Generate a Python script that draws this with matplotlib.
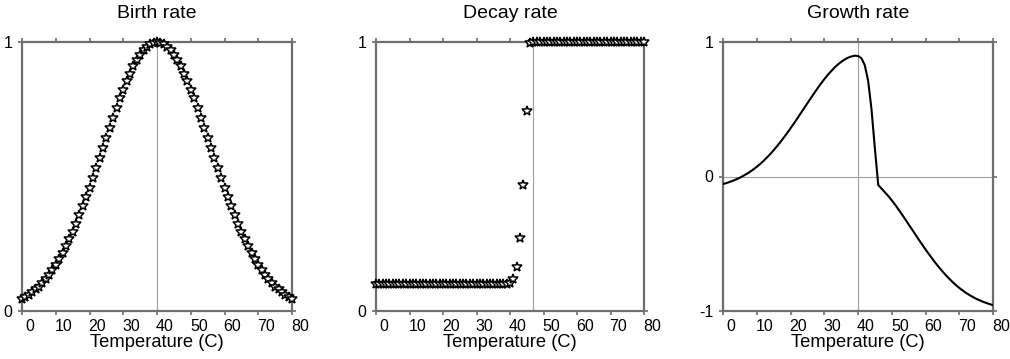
import matplotlib
matplotlib.use('Agg')
import matplotlib.pyplot as plt
import matplotlib.transforms as mtrans

plt.rcParams['font.family'] = ['Liberation Sans', 'DejaVu Sans']

# temperatures 0..80, one sample per degree
temps = list(range(0, 81))

# birth rate (peak at 40 C, symmetric)
birth_half = [1.000, 0.998, 0.992, 0.983, 0.969, 0.952, 0.932, 0.909, 0.882, 0.854,
              0.823, 0.790, 0.755, 0.719, 0.682, 0.644, 0.607, 0.569, 0.531, 0.494,
              0.458, 0.423, 0.389, 0.356, 0.325, 0.295, 0.267, 0.241, 0.216, 0.193,
              0.172, 0.153, 0.135, 0.119, 0.105, 0.091, 0.080, 0.069, 0.060, 0.051,
              0.044]
birth_rate = birth_half[::-1] + birth_half[1:]

# decay rate
decay_rate = [0.100] * 40 + [0.104, 0.118, 0.164, 0.271, 0.469, 0.743, 0.995] + [1.000] * 34

# growth = birth - decay (right panel)
growth_rate = [b - d for b, d in zip(birth_rate, decay_rate)]

xticks = [0, 10, 20, 30, 40, 50, 60, 70, 80]
titles = ['Birth rate', 'Decay rate', 'Growth rate']
vlines = [40, 47, 40]

fig = plt.figure(figsize=(10.10, 3.59), dpi=100)
W, H = 1010, 359
boxes = [(22, 292), (376, 644), (723, 993)]
axes = []
for l, r in boxes:
    axes.append(fig.add_axes([l / W, (359 - 311) / H, (r - l) / W, 269 / H]))

frame_col = '#6e6e6e'
grid_col = '#a0a0a0'

for i, ax in enumerate(axes):
    ax.set_xlim(0, 80)
    ax.set_xticks(xticks)
    ax.tick_params(axis='both', direction='out', length=3, width=1.2, color=frame_col,
                   labelsize=11.5, pad=4, top=True, right=True)
    ax.tick_params(axis='x', pad=3)
    for s in ax.spines.values():
        s.set_color(frame_col)
        s.set_linewidth(1.6)
    # GMT style labels sit a bit right of the tick
    offset = mtrans.ScaledTranslation(0.08, 0, fig.dpi_scale_trans)
    for lab in ax.get_xticklabels():
        lab.set_transform(lab.get_transform() + offset)
    ax.set_title(titles[i], fontsize=14, pad=17)
    ax.set_xlabel('Temperature (C)', fontsize=13.2, labelpad=0)
    ax.axvline(vlines[i], color=grid_col, lw=0.8, zorder=1)

ax1, ax2, ax3 = axes

ax1.set_ylim(0, 1)
ax1.set_yticks([0, 1])
ax1.set_yticklabels(['0', '1'])
ax1.plot(temps, birth_rate, ls='none', marker='*', ms=7.5, mfc='white', mec='black',
         mew=1.1, clip_on=False, zorder=3)

ax2.set_ylim(0, 1)
ax2.set_yticks([0, 1])
ax2.set_yticklabels(['0', '1'])
ax2.plot(temps, decay_rate, ls='none', marker='*', ms=7.5, mfc='white', mec='black',
         mew=1.1, clip_on=False, zorder=3)

ax3.set_ylim(-1, 1)
ax3.set_yticks([-1, 0, 1])
ax3.set_yticklabels(['-1', '0', '1'])
ax3.axhline(0, color=grid_col, lw=0.8, zorder=1)
ax3.plot(temps, growth_rate, color='black', lw=1.5, zorder=3)

plt.savefig('out.png', dpi=100)
